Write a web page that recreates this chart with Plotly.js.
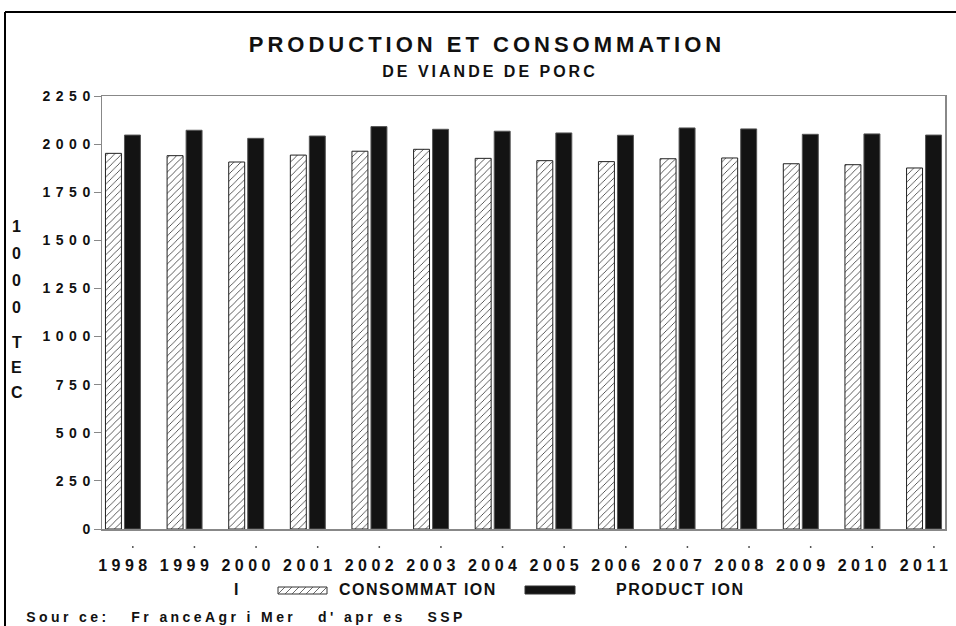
<!DOCTYPE html>
<html>
<head>
<meta charset="utf-8">
<script src="https://cdn.plot.ly/plotly-3.0.1.min.js"></script>
<style>
  html, body { margin: 0; padding: 0; background: #fff; }
  #chart { width: 956px; height: 626px; }
  .gtitle { letter-spacing: 4px; }
  .ytick text { letter-spacing: 5.5px; }
  .xtick text { letter-spacing: 4.5px; }
  .annotation-text { letter-spacing: 1.5px; }
  .annotation[data-index="0"] .annotation-text { letter-spacing: 3px; }
  .annotation[data-index="1"] .annotation-text { letter-spacing: 3.4px; }
</style>
</head>
<body>
<div id="chart"></div>
<script>
// ---- data ----
const categories = ['1998','1999','2000','2001','2002','2003','2004','2005','2006','2007','2008','2009','2010','2011'];
const consommation = [1952,1940,1907,1943,1963,1973,1926,1914,1909,1924,1928,1898,1893,1876];
const production  = [2047,2072,2030,2042,2091,2077,2067,2058,2046,2084,2079,2051,2053,2047];
const yTickVals = [0,250,500,750,1000,1250,1500,1750,2000,2250];
const seriesNames = ['CONSOMMAT ION', 'PRODUCT ION'];
const yTitleChars = ['1','0','0','0','T','E','C'];

// ---- layout helpers (pixel -> paper) ----
const W = 956, H = 626, ML = 102, MR = 11, MT = 96, MB = 97;
const PW = W - ML - MR, PH = H - MT - MB;
const px = x => (x - ML) / PW;
const py = y => (H - MB - y) / PH;
const FONT = 'Liberation Sans, Arial, Helvetica, sans-serif';
const TXT = '#111';

const traces = [
  {
    type: 'bar', name: seriesNames[0], x: categories, y: consommation,
    marker: {
      color: '#ffffff',
      pattern: { shape: '/', fgcolor: '#333', bgcolor: '#ffffff', size: 5, solidity: 0.16 },
      line: { color: '#222', width: 1 }
    },
    showlegend: false, hoverinfo: 'x+y'
  },
  {
    type: 'bar', name: seriesNames[1], x: categories, y: production,
    marker: { color: '#131313', line: { color: '#555', width: 1 } },
    showlegend: false, hoverinfo: 'x+y'
  }
];

const annotations = [];
// 0: subtitle
annotations.push({ text: 'DE VIANDE DE PORC', xref: 'paper', yref: 'paper', x: px(490), y: py(72),
  xanchor: 'center', yanchor: 'middle', showarrow: false, font: { family: FONT, size: 16, color: TXT, weight: 'bold' } });
// 1: source
annotations.push({ text: 'Sour ce:\u00a0\u00a0 Fr anceAgr i Mer\u00a0\u00a0 d\' apr es\u00a0\u00a0 SSP', xref: 'paper', yref: 'paper', x: px(246), y: py(617),
  xanchor: 'center', yanchor: 'middle', showarrow: false, font: { family: FONT, size: 14, color: TXT, weight: 'bold' } });
// legend texts
annotations.push({ text: 'I', xref: 'paper', yref: 'paper', x: px(237), y: py(589),
  xanchor: 'center', yanchor: 'middle', showarrow: false, font: { family: FONT, size: 16, color: TXT, weight: 'bold' } });
annotations.push({ text: seriesNames[0], xref: 'paper', yref: 'paper', x: px(418), y: py(589),
  xanchor: 'center', yanchor: 'middle', showarrow: false, font: { family: FONT, size: 16, color: TXT, weight: 'bold' } });
annotations.push({ text: seriesNames[1], xref: 'paper', yref: 'paper', x: px(680), y: py(589),
  xanchor: 'center', yanchor: 'middle', showarrow: false, font: { family: FONT, size: 16, color: TXT, weight: 'bold' } });
// y-axis title, stacked characters
const yTitlePos = [227, 253, 280, 307, 342, 367, 392];
yTitleChars.forEach((c, i) => {
  annotations.push({ text: c, xref: 'paper', yref: 'paper', x: px(17), y: py(yTitlePos[i]),
    xanchor: 'center', yanchor: 'middle', showarrow: false, font: { family: FONT, size: 16, color: TXT, weight: 'bold' } });
});

const shapes = [];
// outer frame (left + top lines)
shapes.push({ type: 'line', xref: 'paper', yref: 'paper', x0: px(5), x1: px(5), y0: py(12), y1: py(640), line: { color: '#000', width: 2 } });
shapes.push({ type: 'line', xref: 'paper', yref: 'paper', x0: px(5), x1: px(970), y0: py(12), y1: py(12), line: { color: '#000', width: 2 } });
// small dots under the axis
categories.forEach((c, i) => {
  shapes.push({ type: 'line', xref: 'x', yref: 'paper', x0: i + 0.16, x1: i + 0.16, y0: py(546), y1: py(548), line: { color: '#555', width: 1.5 } });
});
// legend swatches
shapes.push({ type: 'rect', xref: 'paper', yref: 'paper', x0: px(278), x1: px(327), y0: py(594), y1: py(587), fillcolor: '#fff', line: { color: '#333', width: 1 } });
for (let x = 278; x < 327; x += 7) {
  const x2 = Math.min(x + 7, 327);
  shapes.push({ type: 'line', xref: 'paper', yref: 'paper', x0: px(x), x1: px(x2), y0: py(594), y1: py(594 - (x2 - x)), line: { color: '#444', width: 0.8 } });
}
shapes.push({ type: 'rect', xref: 'paper', yref: 'paper', x0: px(525), x1: px(575), y0: py(594), y1: py(586), fillcolor: '#131313', line: { color: '#333', width: 1 } });

const layout = {
  width: W, height: H,
  margin: { l: ML, r: MR, t: MT, b: MB, pad: 0 },
  paper_bgcolor: '#fff', plot_bgcolor: '#fff',
  font: { family: FONT, color: TXT },
  title: { text: 'PRODUCTION ET CONSOMMATION', font: { family: FONT, size: 22, color: TXT, weight: 'bold' },
           x: 487 / W, xanchor: 'center', xref: 'container', y: 1 - 44 / H, yanchor: 'middle', yref: 'container' },
  barmode: 'group', bargap: 0.383, bargroupgap: 0.16,
  showlegend: false,
  xaxis: {
    type: 'category', range: [-0.34, 13.34],
    showline: true, mirror: true, linecolor: '#888', linewidth: 1.5,
    showgrid: false, zeroline: false,
    ticks: 'outside', ticklen: 21, tickcolor: 'rgba(0,0,0,0)',
    ticklabelshift: 2,
    tickfont: { family: FONT, size: 16, color: TXT, weight: 'bold' }
  },
  yaxis: {
    range: [0, 2250], tickvals: yTickVals, ticktext: yTickVals.map(String),
    showline: true, mirror: true, linecolor: '#888', linewidth: 1.5,
    showgrid: false, zeroline: false,
    ticks: 'outside', ticklen: 7, tickcolor: '#888', tickwidth: 1,
    ticklabelstandoff: -5,
    tickfont: { family: FONT, size: 14, color: TXT, weight: 'bold' }
  },
  annotations: annotations,
  shapes: shapes
};

Plotly.newPlot('chart', traces, layout, { staticPlot: true, displayModeBar: false });
</script>
</body>
</html>
